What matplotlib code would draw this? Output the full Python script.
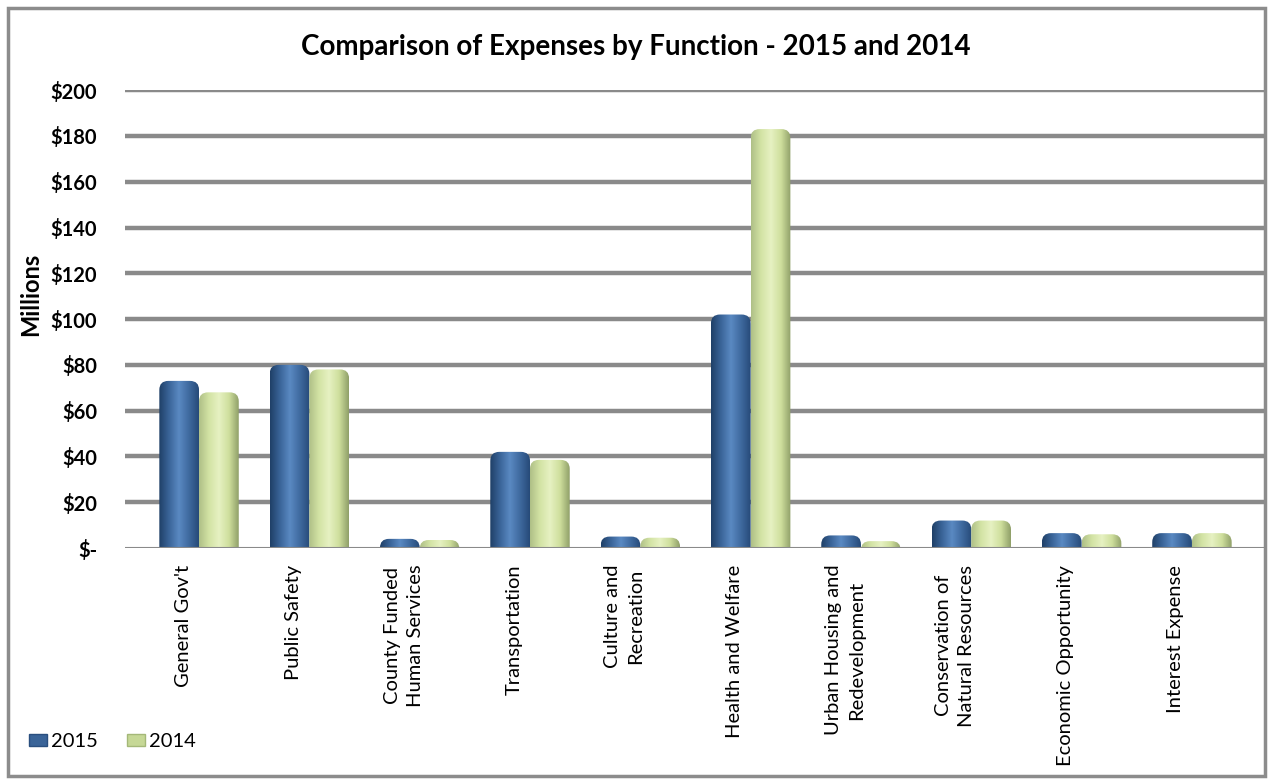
import numpy as np
import matplotlib
matplotlib.use('Agg')
from matplotlib import pyplot as plt
from matplotlib.patches import FancyBboxPatch, Patch
from matplotlib.colors import LinearSegmentedColormap

plt.rcParams['font.family'] = ['Lato', 'DejaVu Sans']

# Datos (millones de dolares)
categorias = ["General Gov't", "Public Safety", "County Funded\nHuman Services",
              "Transportation", "Culture and\nRecreation", "Health and Welfare",
              "Urban Housing and\nRedevelopment", "Conservation of\nNatural Resources",
              "Economic Opportunity", "Interest Expense"]
gastos_2015 = [73, 80, 4, 42, 5, 102, 5.5, 12, 6.5, 6.5]
gastos_2014 = [68, 78, 3.5, 38.5, 4.5, 183, 3, 12, 6, 6.5]
anios = ['2015', '2014']
ticks_y = [0, 20, 40, 60, 80, 100, 120, 140, 160, 180, 200]
etiquetas_y = ['$-', '$20', '$40', '$60', '$80', '$100', '$120', '$140', '$160', '$180', '$200']

# Colores tipo cilindro (borde oscuro, brillo, borde oscuro)
cmap_azul = LinearSegmentedColormap.from_list('azul', ['#1f3f66', '#3a6498', '#5a89c2', '#3f6a9f', '#264a78'])
cmap_verde = LinearSegmentedColormap.from_list('verde', ['#aebf86', '#d3e3a4', '#e6f1c2', '#cfdf9d', '#8f9f68'])

fig = plt.figure(figsize=(12.73, 7.84), dpi=100)
ax = fig.add_axes([0.0982, 0.301, 0.8955, 0.584])

x = np.arange(len(categorias))
ancho = 0.36
desplazamiento = 0.145

ax.set_xlim(-0.526, 9.807)
ax.set_ylim(0, 200)

# Lineas de cuadricula
for t in ticks_y[1:]:
    ax.axhline(t, color='#8a8a8a', lw=3.2, zorder=1)
ax.axhline(0, color='#8a8a8a', lw=1.5, zorder=4)

barras_2015 = ax.bar(x + desplazamiento - ancho / 2, gastos_2015, ancho, color='none', zorder=2)
barras_2014 = ax.bar(x + desplazamiento + ancho / 2, gastos_2014, ancho, color='none', zorder=2)

# Relleno con degradado y esquinas redondeadas
px_x = ax.get_position().width * fig.get_figwidth() * fig.dpi / (9.807 + 0.526)
px_y = ax.get_position().height * fig.get_figheight() * fig.dpi / 200
aspecto = px_x / px_y
radio = 9 / px_x
grad = np.linspace(0, 1, 256).reshape(1, -1)

for barras, cmap in [(barras_2015, cmap_azul), (barras_2014, cmap_verde)]:
    for b in barras:
        x0, w, h = b.get_x(), b.get_width(), b.get_height()
        forma = FancyBboxPatch((x0, -20), w, h + 20,
                               boxstyle='round,pad=0,rounding_size=%f' % radio,
                               mutation_aspect=aspecto, transform=ax.transData,
                               facecolor='none', edgecolor='none')
        ax.add_patch(forma)
        im = ax.imshow(grad, cmap=cmap, extent=[x0, x0 + w, 0, h], aspect='auto', zorder=3)
        im.set_clip_path(forma)

ax.set_xlim(-0.526, 9.807)
ax.set_ylim(0, 200)

ax.set_yticks(ticks_y)
ax.set_yticklabels(etiquetas_y, fontsize=14.5, fontweight='bold')
ax.set_xticks(x)
ax.set_xticklabels(categorias, rotation=90, fontsize=14.5, ha='center', va='top',
                   multialignment='center')
for etiqueta in ax.get_xticklabels():
    etiqueta.set_linespacing(1.45)
ax.tick_params(axis='both', length=0)
ax.tick_params(axis='y', pad=20)
ax.tick_params(axis='x', pad=12)
for s in ax.spines.values():
    s.set_visible(False)

ax.set_ylabel('Millions', fontsize=17, fontweight='bold')
ax.yaxis.set_label_coords(-0.073, 0.555)

fig.text(0.4996, 0.94, 'Comparison of Expenses by Function - 2015 and 2014',
         ha='center', va='center', fontsize=20, fontweight='bold')

manijas = [Patch(facecolor='#3a6498', edgecolor='#2a4f7f'),
           Patch(facecolor='#c6d896', edgecolor='#a4b878')]
fig.legend(manijas, anios, loc='center left', bbox_to_anchor=(0.023, 0.054),
           ncol=2, frameon=False, fontsize=14.5, handlelength=0.9, handleheight=0.6,
           handletextpad=0.2, columnspacing=1.4, borderpad=0, borderaxespad=0)

# Borde exterior
borde = FancyBboxPatch((0.006, 0.01), 0.988, 0.98, boxstyle='square,pad=0',
                       transform=fig.transFigure, facecolor='none',
                       edgecolor='#8c8c8c', lw=2.5)
fig.patches.append(borde)

fig.savefig('out.png', dpi=100)
